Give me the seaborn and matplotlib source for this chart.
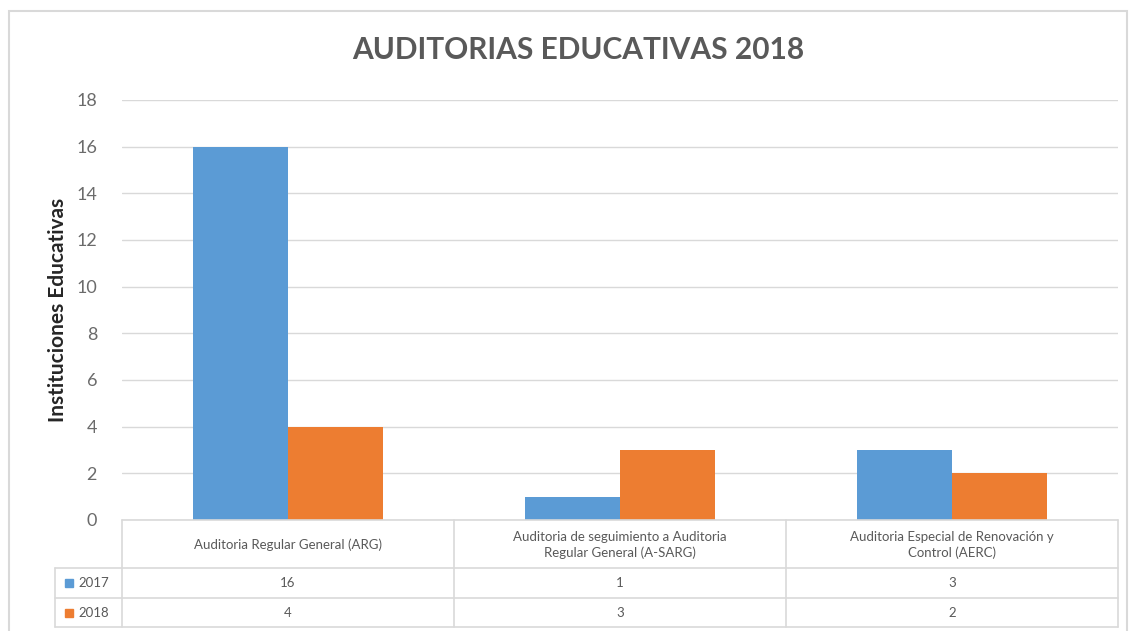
import numpy as np
import matplotlib.pyplot as plt
import seaborn as sns
import pandas as pd
from matplotlib.lines import Line2D
from matplotlib.patches import Rectangle

categorias = ['Auditoria Regular General (ARG)',
              'Auditoria de seguimiento a Auditoria\nRegular General (A-SARG)',
              'Auditoria Especial de Renovación y\nControl (AERC)']
anios = ['2017', '2018']
valores_2017 = [16, 1, 3]
valores_2018 = [4, 3, 2]
colores = ['#5B9BD5', '#ED7D31']

sns.set_style('white')
plt.rcParams['font.family'] = ['Lato', 'DejaVu Sans']

df = pd.DataFrame({
    'categoria': categorias * 2,
    'anio': [anios[0]] * 3 + [anios[1]] * 3,
    'valor': valores_2017 + valores_2018,
})

W, H = 1142, 631
fig = plt.figure(figsize=(W / 100, H / 100), dpi=100)
ax = fig.add_axes([122 / W, 1 - 520 / H, (1118 - 122) / W, (520 - 100) / H])

sns.barplot(data=df, x='categoria', y='valor', hue='anio', palette=colores,
            width=0.57, saturation=1, linewidth=0, ax=ax, legend=False)

gris = '#595959'
linea = '#d9d9d9'
ax.set_ylim(0, 18)
ax.set_yticks(range(0, 19, 2))
ax.yaxis.grid(True, color=linea, lw=1)
ax.set_axisbelow(True)
for s in ax.spines.values():
    s.set_visible(False)
ax.set_xticks([])
ax.set_xlabel('')
ax.tick_params(axis='y', length=0, labelsize=13, labelcolor='#6b6b6b', pad=18)
ax.set_ylabel('Instituciones Educativas', fontsize=15, color='#262626',
              fontweight='bold', labelpad=6)

fig.suptitle('AUDITORIAS EDUCATIVAS 2018', x=578 / W, y=1 - 50 / H, va='center',
             fontsize=21.5, fontweight='bold', color=gris)


def px(x, y):
    return x / W, 1 - y / H


def hline(y, x0, x1):
    a, b = px(x0, y)
    c, _ = px(x1, y)
    fig.add_artist(Line2D([a, c], [b, b], color=linea, lw=1.2))


def vline(x, y0, y1):
    a, b = px(x, y0)
    _, d = px(x, y1)
    fig.add_artist(Line2D([a, a], [b, d], color=linea, lw=1.2))


# marco del gráfico
fig.add_artist(Rectangle(px(9, 700), (1127 - 9) / W, (700 - 11) / H,
                         fill=False, edgecolor=linea, lw=1.5))

# tabla de datos
cols = [122, 454, 786, 1118]
hline(520, 122, 1118)
for y in [568, 598, 627]:
    hline(y, 55, 1118)
vline(55, 568, 627)
for x in cols:
    vline(x, 520, 627)

for i, cat in enumerate(categorias):
    cx = (cols[i] + cols[i + 1]) / 2
    fig.text(*px(cx, 545), cat, ha='center', va='center', fontsize=9.5,
             color=gris, linespacing=1.3)
    fig.text(*px(cx, 583), str(valores_2017[i]), ha='center', va='center',
             fontsize=9.5, color=gris)
    fig.text(*px(cx, 613), str(valores_2018[i]), ha='center', va='center',
             fontsize=9.5, color=gris)

for j, (anio, col) in enumerate(zip(anios, colores)):
    yc = 583 + 30 * j
    fig.add_artist(Rectangle(px(65, yc + 4), 8 / W, 8 / H, color=col))
    fig.text(*px(78, yc), anio, ha='left', va='center', fontsize=9.5, color=gris)

plt.savefig('out.png', dpi=100)
